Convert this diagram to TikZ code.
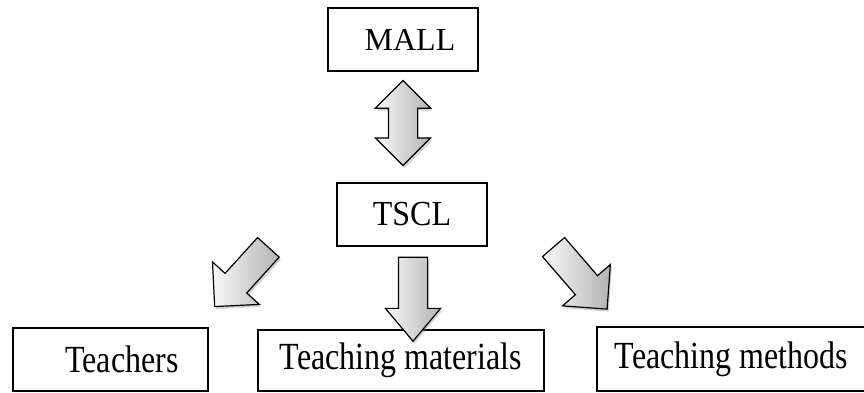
\documentclass[tikz,border=0pt]{standalone}
\usepackage{fontspec}
\setmainfont{Liberation Serif}
\usepackage{tikz}
\usetikzlibrary{shapes.arrows, shadows, calc}
\tikzstyle{box} = [rectangle, minimum height=63pt, inner sep=0pt, text centered, draw=black, line width=1.1pt, font=\fontsize{32}{36}\selectfont]
\tikzstyle{block} = [single arrow, inner xsep=0pt, inner ysep=14pt, draw=black, line width=1.2pt, left color=gray!5, right color=gray!60, drop shadow={shadow xshift=1.5pt, shadow yshift=-2.5pt, opacity=.35}]
\tikzstyle{twoway} = [double arrow, inner xsep=0pt, inner ysep=14pt, draw=black, line width=1.2pt, left color=gray!5, right color=gray!60, drop shadow={shadow xshift=1.5pt, shadow yshift=-2.5pt, opacity=.35}]

\begin{document}
\begin{tikzpicture}[x=1pt, y=-1pt]
	
	\useasboundingbox (0,0) rectangle (864,392);
	
	\node (p1) [box, minimum width=150pt] at (403,39.5) {\hspace*{14pt}MALL};
	\node (p2) [box, minimum width=150pt] at (412,214.5) {\scalebox{1}[1.1]{TSCL}};
	
	\node (a1) [twoway, rotate=-90, minimum height=85pt, double arrow head extend=13pt] at ($(p1.south)+(0,51.5)$) {};
	
	\node (p3) [box, minimum width=195pt] at (110.5,359.5) {\hspace*{23pt}\scalebox{1}[1.2]{Teachers}};
	\node (p4) [box, minimum width=286pt, minimum height=61pt] at (401,360.5) {\scalebox{1}[1.2]{Teaching materials}};
	\node (p5) [box, minimum width=269pt, minimum height=64pt] at (731.5,359) {\scalebox{1}[1.2]{Teaching methods}};
	
	\node (a2) [block, rotate=227.8, minimum height=80pt, single arrow head extend=17pt] at ($(p2.south west)+(-90,25)$) {};
	\node (a3) [block, rotate=-90, minimum height=84pt, single arrow head extend=13pt, single arrow tip angle=80] at ($(p2.south)+(1,44)$) {};
	\node (a4) [block, rotate=-49.2, minimum height=82pt, single arrow head extend=17pt] at ($(p2.south east)+(88,26)$) {};
	
\end{tikzpicture}
\end{document}
